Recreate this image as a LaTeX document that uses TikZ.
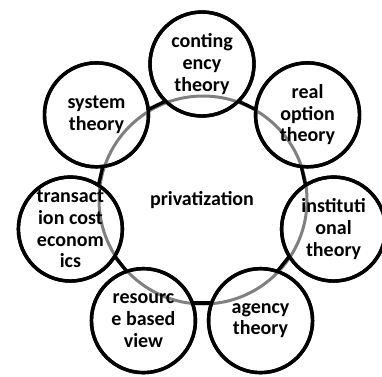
\documentclass[tikz,border=0pt]{standalone}
\usepackage{fontspec}
\setmainfont{Carlito}
\begin{document}
\begin{tikzpicture}[x=1pt,y=1pt,
  theory/.style={circle, draw=black, line width=3.4pt, fill=white, minimum size=104pt, inner sep=0pt},
  rim/.style={draw=black, line width=3.4pt},
  txt/.style={align=center, inner sep=0pt, font=\bfseries\fontsize{20}{21.7}\selectfont},
  ring/.style={draw=black!50, line width=3pt},
  link/.style={draw=black, line width=3.4pt}]
\useasboundingbox (0,0) rectangle (382,-376);
\begin{scope}[shift={(202,-199)}]
  % theory circles
  \node[theory] (cont) at (90:135) {};
  \node[theory] (real) at (38.57:135) {};
  \node[theory] (inst) at (-12.86:135) {};
  \node[theory] (agen) at (-64.29:135) {};
  \node[theory] (reso) at (-115.71:135) {};
  \node[theory] (tran) at (-167.14:135) {};
  \node[theory] (syst) at (141.43:135) {};
  % grey ring
  \coordinate (ringc) at (1,-1);
  \draw[ring] (ringc) circle (104);
  % outlines on top of the ring
  \foreach \n in {cont,real,inst,agen,reso,tran,syst}
    \draw[rim] (\n.center) circle (52);
  % black links between neighbouring circles
  \foreach \m [count=\i] in {64.29,12.86,-38.57,-90,-141.43,-192.86,-244.29} {
    \coordinate (l\i a) at (\m+5.33:104.45);
    \coordinate (l\i b) at (\m-5.33:104.45);
    \draw[link] (l\i a) -- (l\i b);
  }
  % texts
  \node[txt] (cont-t) at (cont.center) {conting\\ency\\theory};
  \node[txt] (real-t) at (real.center) {real\\option\\theory};
  \node[txt] (inst-t) at (inst.center) {instituti\\onal\\theory};
  \node[txt] (agen-t) at (agen.center) {agency\\theory};
  \node[txt] (reso-t) at (reso.center) {resourc\\e based\\view};
  \node[txt] (tran-t) at (tran.center) {transact\\ion cost\\econom\\ics};
  \node[txt] (syst-t) at (syst.center) {system\\theory};
  \node[txt] (priv) at (0,-1) {privatization};
\end{scope}
\end{tikzpicture}
\end{document}
